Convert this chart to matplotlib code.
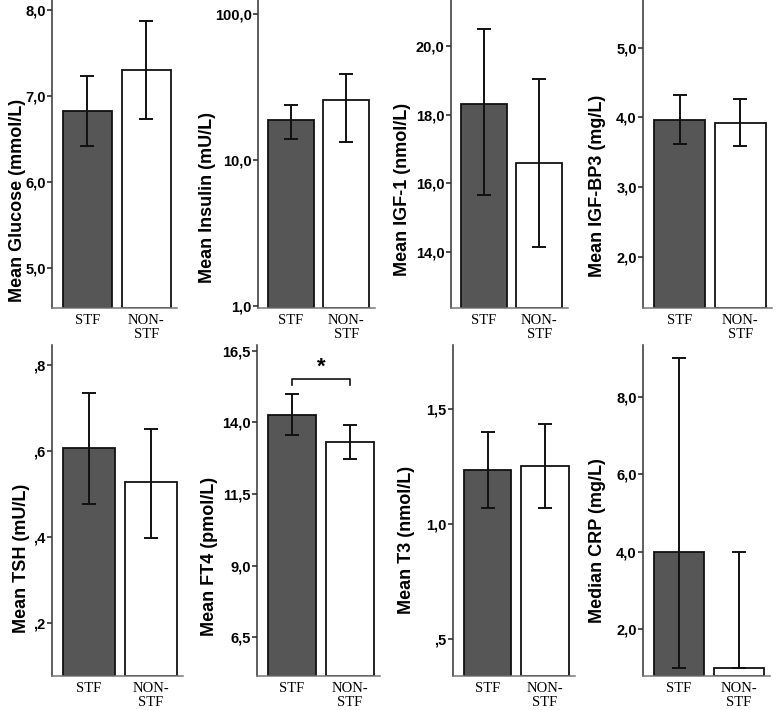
import matplotlib
matplotlib.use('Agg')
import matplotlib.pyplot as plt
from matplotlib.ticker import FixedLocator, FuncFormatter, NullLocator

# groups on the x axis
groups = ['STF', 'NON-\nSTF']

# one entry per panel, in reading order
ylabels = ['Mean Glucose (mmol/L)', 'Mean Insulin (mU/L)', 'Mean IGF-1 (nmol/L)',
           'Mean IGF-BP3 (mg/L)', 'Mean TSH (mU/L)', 'Mean FT4 (pmol/L)',
           'Mean T3 (nmol/L)', 'Median CRP (mg/L)']
values = [[6.83, 7.30], [18.7, 25.8], [18.32, 16.61], [3.97, 3.92],
          [0.606, 0.527], [14.27, 13.30], [1.238, 1.255], [4.0, 1.0]]
ci_low = [[6.42, 6.73], [14.05, 13.4], [15.66, 14.14], [3.62, 3.59],
          [0.476, 0.398], [13.57, 12.71], [1.07, 1.07], [1.0, 1.0]]
ci_high = [[7.24, 7.87], [23.7, 38.7], [20.51, 19.06], [4.33, 4.27],
           [0.735, 0.650], [15.0, 13.9], [1.40, 1.435], [9.0, 4.0]]
yticks = [[5, 6, 7, 8], [1, 10, 100], [14, 16, 18, 20], [2, 3, 4, 5],
          [0.2, 0.4, 0.6, 0.8], [6.5, 9, 11.5, 14, 16.5], [0.5, 1.0, 1.5], [2, 4, 6, 8]]
ylims = [(4.535, 8.12), (0.97, 125), (12.37, 21.35), (1.26, 5.69),
         (0.077, 0.846), (5.15, 16.7), (0.34, 1.78), (0.80, 9.34)]
log_panel = 1

# significance marker on FT4 panel
sig_panel = 5
sig_y = 15.5
sig_drop = 15.3

# panel placement in pixels: left spine, right end, top, bottom
W, H = 778, 710
boxes = [(52, 177, 0, 308), (258, 375, 0, 308), (451, 568, 0, 308), (643, 772, 0, 308),
         (52, 183, 345, 676), (257, 380, 345, 676), (453, 575, 345, 676), (643, 770, 345, 676)]
# y label centre (x pixel) and vertical centre as axes fraction
label_x = [18, 208, 403, 598, 22, 210, 407, 598]
label_y = [0.35, 0.36, 0.385, 0.395, 0.355, 0.36, 0.41, 0.41]

bar_colors = ['#565656', 'white']


def fmt(v, pos=None):
    s = '%.1f' % v
    if s.startswith('0.'):
        s = s[1:]
    return s.replace('.', ',')


fig = plt.figure(figsize=(W / 100, H / 100), dpi=100)

for i in range(8):
    l, r, t, b = boxes[i]
    ax = fig.add_axes([l / W, 1 - b / H, (r - l) / W, (b - t) / H])
    base = ylims[i][0]
    x = [0, 1]
    heights = [v - base for v in values[i]]
    ax.bar(x, heights, bottom=base, width=0.83, color=bar_colors,
           edgecolor='#111111', linewidth=1.3, zorder=2)
    yerr = [[values[i][k] - ci_low[i][k] for k in range(2)],
            [ci_high[i][k] - values[i][k] for k in range(2)]]
    ax.errorbar(x, values[i], yerr=yerr, fmt='none', ecolor='#111111',
                elinewidth=1.4, capsize=5, capthick=1.4, zorder=3)
    if i == log_panel:
        ax.set_yscale('log')
        ax.yaxis.set_minor_locator(NullLocator())
    ax.set_ylim(ylims[i])
    ax.set_xlim(-0.6, 1.52)
    ax.yaxis.set_major_locator(FixedLocator(yticks[i]))
    ax.yaxis.set_major_formatter(FuncFormatter(fmt))
    ax.set_xticks(x)
    ax.set_xticklabels(groups, family='Liberation Serif', fontsize=10.5,
                       linespacing=1.15)
    ax.tick_params(axis='x', length=0, pad=4)
    ax.tick_params(axis='y', length=3.5, width=1.1, pad=1, labelsize=10.5,
                   color='#222222')
    for lab in ax.get_yticklabels():
        lab.set_family('Liberation Sans')
        lab.set_fontweight('bold')
    ax.spines['top'].set_visible(False)
    ax.spines['right'].set_visible(False)
    ax.spines['left'].set_color('#333333')
    ax.spines['left'].set_linewidth(1.1)
    ax.spines['bottom'].set_color('#777777')
    ax.spines['bottom'].set_linewidth(1.1)
    ax.set_ylabel(ylabels[i], family='Liberation Sans', fontweight='bold',
                  fontsize=13)
    ax.yaxis.set_label_coords((label_x[i] + 8 - l) / (r - l), label_y[i])

    if i == sig_panel:
        ax.plot([0, 0, 1, 1], [sig_drop, sig_y, sig_y, sig_drop],
                color='#111111', linewidth=1.2, clip_on=False)
        ax.text(0.5, sig_y + 0.05, '*', ha='center', va='bottom',
                fontsize=16, fontweight='bold', family='Liberation Sans')

fig.savefig('out.png', dpi=100)
